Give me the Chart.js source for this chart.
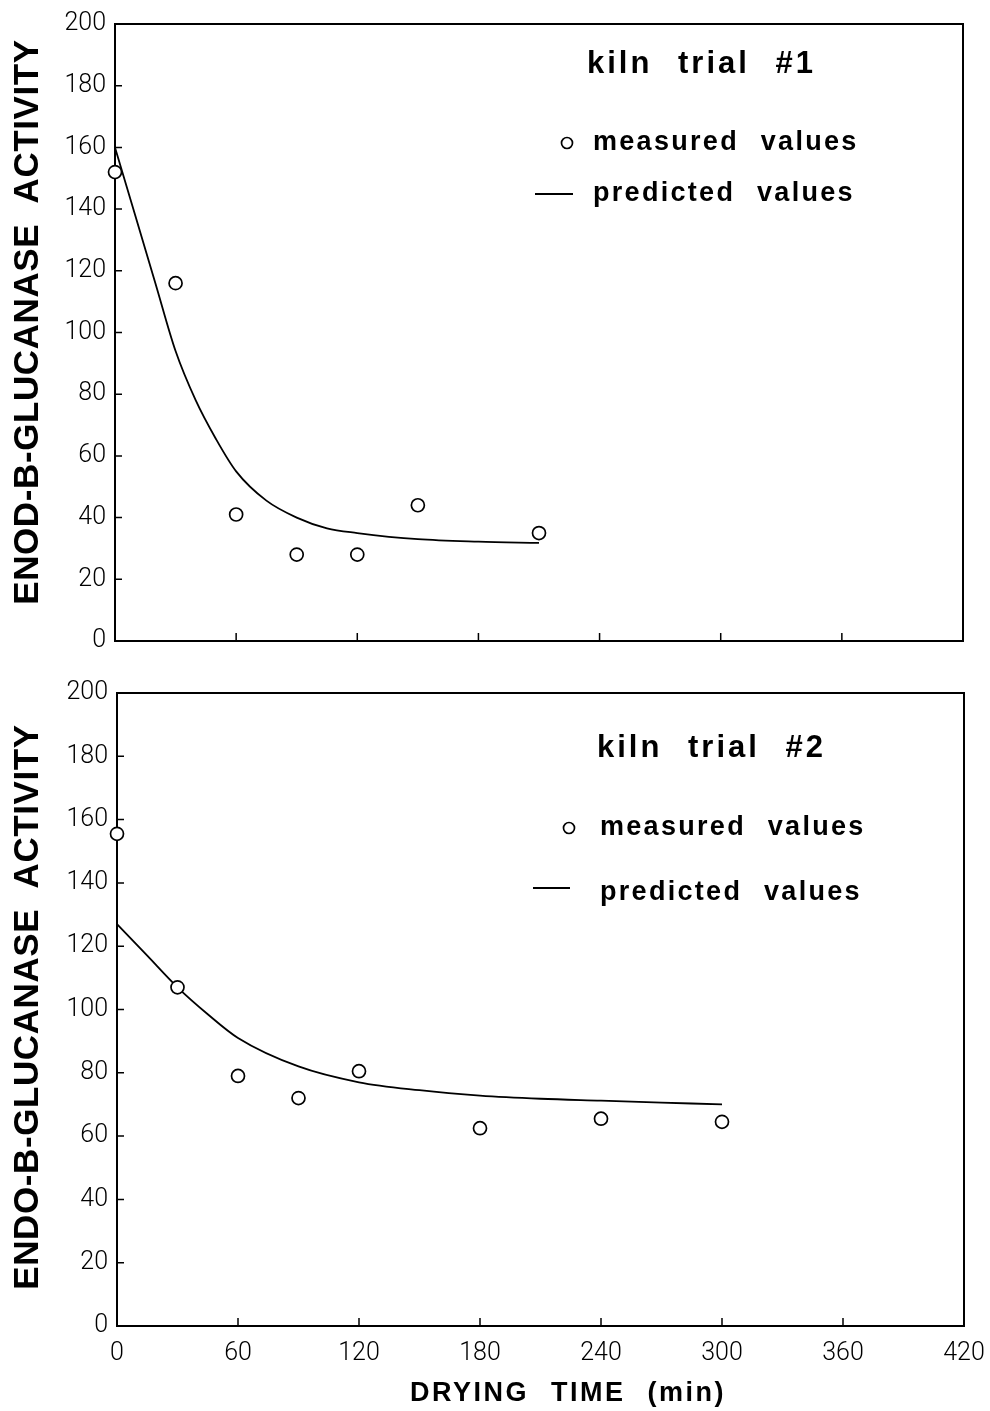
<!DOCTYPE html>
<html lang="en">
<head>
    <meta charset="UTF-8">
    <title>Endo-B-glucanase activity during kilning</title>
    <script src="https://cdn.jsdelivr.net/npm/chart.js"></script>
    <style>
        body { margin: 0; background: #fff; }
        #wrap { position: relative; width: 990px; height: 1411px; }
        canvas { position: absolute; left: 0; }
    </style>
</head>
<body>
<div id="wrap">
    <canvas id="chart1" width="990" height="665" style="top:0"></canvas>
    <canvas id="chart2" width="990" height="746" style="top:665px"></canvas>
</div>
<script>
    // kiln trial #1
    const timeMeasured1 = [0, 30, 60, 90, 120, 150, 210];
    const measured1 = [152, 116, 41, 28, 28, 44, 35];
    const timePredicted1 = [0, 10, 20, 30, 40, 50, 60, 75, 90, 105, 120, 150, 180, 210];
    const predicted1 = [160, 138, 116, 94, 78, 65.5, 55, 45.5, 40, 36.5, 35, 33, 32.2, 31.8];

    // kiln trial #2
    const timeMeasured2 = [0, 30, 60, 90, 120, 180, 240, 300];
    const measured2 = [155.5, 107, 79, 72, 80.5, 62.5, 65.5, 64.5];
    const timePredicted2 = [0, 15, 30, 45, 60, 90, 120, 150, 180, 210, 240, 270, 300];
    const predicted2 = [127, 117, 107, 98.5, 91, 82, 77, 74.5, 72.8, 71.8, 71.2, 70.6, 70];

    const xTicks = [0, 60, 120, 180, 240, 300, 360, 420];
    const yTicks = [0, 20, 40, 60, 80, 100, 120, 140, 160, 180, 200];

    const toPoints = (xs, ys) => ys.map((v, i) => ({ x: xs[i], y: v }));

    // box round the plot area, tick marks pointing inwards
    const framePlugin = {
        id: 'frame',
        beforeDatasetsDraw(chart) {
            const { ctx, chartArea: a, scales } = chart;
            ctx.save();
            ctx.strokeStyle = '#000';
            ctx.lineWidth = 2;
            ctx.strokeRect(a.left, a.top, a.right - a.left, a.bottom - a.top);
            ctx.lineWidth = 1.5;
            ctx.beginPath();
            scales.y.ticks.forEach(t => {
                const y = scales.y.getPixelForValue(t.value);
                ctx.moveTo(a.left, y);
                ctx.lineTo(a.left + 7, y);
            });
            scales.x.ticks.forEach(t => {
                const x = scales.x.getPixelForValue(t.value);
                ctx.moveTo(x, a.bottom);
                ctx.lineTo(x, a.bottom - 8);
            });
            ctx.stroke();
            ctx.restore();
        }
    };

    // titles and the legend box inside the plot
    const notesPlugin = {
        id: 'notes',
        afterDraw(chart, args, opts) {
            const ctx = chart.ctx;
            ctx.save();
            ctx.fillStyle = '#000';
            ctx.strokeStyle = '#000';
            (opts.texts || []).forEach(t => {
                ctx.save();
                ctx.font = t.font;
                ctx.letterSpacing = (t.spacing || 0) + 'px';
                ctx.wordSpacing = (t.wordSpacing || 0) + 'px';
                ctx.textAlign = t.align || 'left';
                ctx.textBaseline = t.baseline || 'alphabetic';
                ctx.translate(t.x, t.y);
                if (t.rotate) ctx.rotate(t.rotate);
                ctx.fillText(t.text, 0, 0);
                ctx.restore();
            });
            if (opts.circle) {
                ctx.lineWidth = 1.7;
                ctx.beginPath();
                ctx.arc(opts.circle.x, opts.circle.y, 5.5, 0, Math.PI * 2);
                ctx.stroke();
            }
            if (opts.line) {
                ctx.lineWidth = 2;
                ctx.beginPath();
                ctx.moveTo(opts.line.x1, opts.line.y);
                ctx.lineTo(opts.line.x2, opts.line.y);
                ctx.stroke();
            }
            ctx.restore();
        }
    };

    const titleFont = 'bold 35px "Liberation Sans", Arial, sans-serif';
    const trialFont = 'bold 31px "Liberation Sans", Arial, sans-serif';
    const legendFont = 'bold 27px "Liberation Sans", Arial, sans-serif';

    function makeChart(id, cfg) {
        return new Chart(document.getElementById(id), {
            type: 'scatter',
            data: {
                datasets: [
                    {
                        label: 'measured values',
                        data: toPoints(cfg.tm, cfg.m),
                        pointStyle: 'circle',
                        pointRadius: 6.5,
                        borderWidth: 1.7,
                        borderColor: '#000',
                        backgroundColor: '#fff',
                        showLine: false,
                        order: 0
                    },
                    {
                        label: 'predicted values',
                        data: toPoints(cfg.tp, cfg.p),
                        showLine: true,
                        pointRadius: 0,
                        borderWidth: 1.8,
                        borderColor: '#000',
                        backgroundColor: '#000',
                        cubicInterpolationMode: 'monotone',
                        fill: false,
                        order: 1
                    }
                ]
            },
            options: {
                responsive: false,
                animation: false,
                clip: false,
                layout: { padding: cfg.padding },
                plugins: {
                    legend: { display: false },
                    tooltip: { enabled: false },
                    notes: cfg.notes
                },
                scales: {
                    x: {
                        type: 'linear',
                        min: 0,
                        max: 420,
                        afterBuildTicks: s => { s.ticks = xTicks.map(v => ({ value: v })); },
                        ticks: {
                            display: cfg.showX,
                            color: '#000',
                            padding: 13,
                            maxRotation: 0,
                            font: { family: 'Roboto', weight: '300', size: 25 }
                        },
                        grid: { display: false, drawTicks: false },
                        border: { display: false },
                        afterFit: s => {
                            s.height = cfg.xHeight;
                            s.paddingLeft = 0;
                            s.paddingRight = 0;
                        }
                    },
                    y: {
                        min: 0,
                        max: 200,
                        afterBuildTicks: s => { s.ticks = yTicks.map(v => ({ value: v })); },
                        ticks: {
                            color: '#000',
                            padding: 9,
                            font: { family: 'Roboto', weight: '300', size: 25 }
                        },
                        grid: { display: false, drawTicks: false },
                        border: { display: false },
                        afterFit: s => { s.width = cfg.yWidth; }
                    }
                }
            },
            plugins: [framePlugin, notesPlugin]
        });
    }

    makeChart('chart1', {
        tm: timeMeasured1, m: measured1, tp: timePredicted1, p: predicted1,
        showX: false,
        xHeight: 22,
        yWidth: 115,
        padding: { left: 0, right: 27, top: 15, bottom: 0 },
        notes: {
            texts: [
                { text: 'ENOD-B-GLUCANASE ACTIVITY', x: 28, y: 322, rotate: -Math.PI / 2,
                  font: titleFont, spacing: 0.6, wordSpacing: 10, align: 'center', baseline: 'middle' },
                { text: 'kiln trial #1', x: 587, y: 73, font: trialFont, spacing: 3, wordSpacing: 14 },
                { text: 'measured values', x: 593, y: 150, font: legendFont, spacing: 2.3, wordSpacing: 12 },
                { text: 'predicted values', x: 593, y: 201, font: legendFont, spacing: 2.3, wordSpacing: 12 }
            ],
            circle: { x: 567, y: 143 },
            line: { x1: 535, x2: 573, y: 194 }
        }
    });

    makeChart('chart2', {
        tm: timeMeasured2, m: measured2, tp: timePredicted2, p: predicted2,
        showX: true,
        xHeight: 85,
        yWidth: 117,
        padding: { left: 0, right: 26, top: 28, bottom: 0 },
        notes: {
            texts: [
                { text: 'ENDO-B-GLUCANASE ACTIVITY', x: 28, y: 342, rotate: -Math.PI / 2,
                  font: titleFont, spacing: 0.6, wordSpacing: 10, align: 'center', baseline: 'middle' },
                { text: 'kiln trial #2', x: 597, y: 92, font: trialFont, spacing: 3, wordSpacing: 14 },
                { text: 'measured values', x: 600, y: 170, font: legendFont, spacing: 2.3, wordSpacing: 12 },
                { text: 'predicted values', x: 600, y: 235, font: legendFont, spacing: 2.3, wordSpacing: 12 },
                { text: 'DRYING TIME (min)', x: 568, y: 729, font: 'bold 27px "Liberation Sans", Arial, sans-serif',
                  spacing: 2.5, wordSpacing: 12, align: 'center', baseline: 'middle' }
            ],
            circle: { x: 569, y: 163 },
            line: { x1: 533, x2: 570, y: 223 }
        }
    });
</script>
</body>
</html>
